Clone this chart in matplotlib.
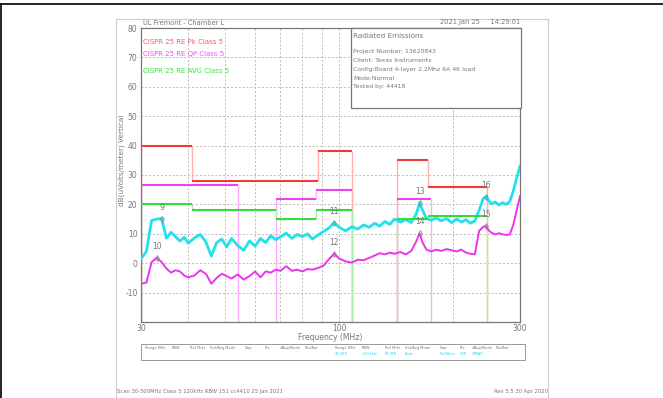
import matplotlib
matplotlib.use("Agg")
import matplotlib.pyplot as plt
from matplotlib.patches import Rectangle
from matplotlib.lines import Line2D

W, H = 663, 398

# scan frequencies (MHz) and measured levels (dBuV/m)
freq = [30, 31, 32, 33, 34, 35, 36, 37, 38, 39, 40, 41.5, 43, 44.5, 46, 47.5, 49, 50.5,
        52, 54, 56, 58, 60, 62, 64, 66, 68, 70, 72.5, 75, 77.5, 80, 82.5, 85, 88, 91,
        94, 97, 100, 104, 108, 112, 116, 120, 124, 128, 132, 136, 140, 145, 150, 155,
        160, 163, 166, 170, 175, 180, 186, 192, 198, 204, 210, 216, 222, 228, 234, 240,
        244, 248, 252, 258, 264, 270, 276, 282, 288, 294, 300]
peak_scan = [1.5, 4.0, 14.5, 15.0, 15.2, 8.5, 10.5, 9.0, 7.5, 8.8, 6.8, 8.6, 9.8, 7.2,
             2.4, 7.0, 8.2, 5.6, 8.4, 6.0, 4.4, 7.6, 5.8, 8.4, 7.0, 9.4, 8.0, 9.0, 10.2,
             8.4, 9.8, 9.0, 10.0, 8.2, 9.6, 10.8, 12.0, 13.8, 12.2, 11.0, 12.4, 11.6,
             13.0, 12.2, 13.6, 12.6, 14.2, 13.2, 15.0, 14.0, 14.8, 13.8, 17.0, 20.5,
             18.0, 15.2, 14.6, 15.4, 14.4, 15.2, 13.8, 15.0, 14.0, 14.8, 13.6, 14.4,
             18.0, 22.0, 22.6, 21.4, 20.2, 20.8, 19.8, 20.6, 20.0, 21.0, 24.5, 29.0, 33.0]
qp_scan = [-7.0, -6.6, 0.4, 1.8, 0.4, -1.8, -3.2, -2.4, -2.8, -4.2, -4.8, -4.2, -2.4,
           -3.6, -7.0, -5.0, -3.6, -4.4, -5.2, -3.8, -5.6, -4.4, -2.8, -4.8, -2.8, -3.2,
           -2.2, -2.6, -1.0, -2.6, -2.2, -2.8, -2.0, -2.2, -1.6, -0.8, 1.4, 3.2, 1.6,
           0.6, 0.2, 1.2, 1.0, 1.8, 2.6, 3.4, 3.0, 3.6, 3.2, 3.8, 3.0, 4.2, 7.6, 10.2,
           7.0, 4.6, 4.0, 4.6, 4.2, 4.8, 4.4, 4.0, 4.6, 3.6, 3.2, 3.0, 11.0, 12.4, 12.6,
           11.2, 10.4, 9.8, 10.2, 9.8, 9.6, 9.8, 13.0, 18.0, 22.8]

# limit bands: (start MHz, stop MHz, level dBuV/m)
pk_bands = [(30, 41, 40), (41, 88, 28), (88, 108, 38), (142, 172, 35), (172, 245, 26)]
qp_bands = [(30, 54, 26.5), (68, 87, 22), (87, 108, 25), (142, 175, 22)]
avg_bands = [(30, 41, 20), (41, 68, 18), (68, 87, 15), (87, 108, 18), (142, 172, 15),
             (172, 245, 16)]

# markers
mk_num = [9, 10, 11, 12, 13, 14, 15, 16]
mk_freq = [34, 33, 97, 97, 163, 163, 244, 244]
mk_level = [15.2, 1.8, 13.8, 3.2, 20.5, 10.2, 12.6, 22.6]

grid_freqs = [40, 50, 60, 70, 80, 90, 100, 200]
x_ticks = [30, 100, 300]
y_ticks = [-10, 0, 10, 20, 30, 40, 50, 60, 70, 80]

info_lines = ["Project Number: 13620843", "Client: Texas Instruments",
              "Config:Board 4-layer 2.2Mhz 6A 4K load", "Mode:Normal", "Tested by: 44418"]
tbl_head = ["Range MHz", "RBW", "Ref Mrkr", "Set/Avg Mode", "Swp", "Pts", "#Avg/Mode", "Pos/Ant"]
tbl_vals = ["30-300", "120 kHz", "Pk MR", "Peak", "5s/30ms", "500", "1/MAX", ""]

FONT = ['DejaVu Sans']
GRAY = '#777777'


def px(x, y):
    return x / W, 1 - y / H


def ftext(x, y, s, **kw):
    kw.setdefault('fontsize', 5)
    kw.setdefault('color', GRAY)
    kw.setdefault('va', 'center')
    fig.text(*px(x, y), s, family=FONT, **kw)


def draw_limit(ax, bands, col, edge_col):
    for i, (f0, f1, lv) in enumerate(bands):
        ax.hlines(lv, f0, f1, color=col, lw=1.5, zorder=4)
        prev = bands[i - 1] if i > 0 else None
        low = prev[2] if prev and prev[1] == f0 else -20
        ax.vlines(f0, min(low, lv), max(low, lv), color=edge_col, lw=1, zorder=2)
        nxt = bands[i + 1] if i + 1 < len(bands) else None
        if not (nxt and nxt[0] == f1):
            ax.vlines(f1, -20, lv, color=edge_col, lw=1, zorder=2)


fig = plt.figure(figsize=(W / 100, H / 100), dpi=100)

# frames
fig.add_artist(Line2D([0, 1], [1 - 4 / H] * 2, color='black', lw=1.2))
fig.add_artist(Line2D([0.5 / W] * 2, [0, 1 - 4 / H], color='black', lw=1.2))
fig.add_artist(Line2D([116 / W, 116 / W, 548 / W, 548 / W], [0, 1 - 19 / H, 1 - 19 / H, 0],
                      color='#cccccc', lw=0.8))

ax = fig.add_axes([141 / W, 1 - 322 / H, 379 / W, 294 / H])
ax.set_xscale('log')
ax.set_xlim(30, 300)
ax.set_ylim(-20, 80)

for f in grid_freqs:
    ax.axvline(f, color='#bbbbbb', lw=0.7, ls=(0, (2, 2)), zorder=1)
for y in y_ticks[:-1]:
    ax.axhline(y, color='#bbbbbb', lw=0.7, ls=(0, (2, 2)), zorder=1)

draw_limit(ax, qp_bands, '#ee44ee', '#ffaaff')
draw_limit(ax, pk_bands, '#ee3b3b', '#ffb0b0')
draw_limit(ax, avg_bands, '#33dd33', '#aaeeaa')

ax.plot(freq, peak_scan, color='#22e0ee', lw=2.0, zorder=3)
ax.plot(freq, qp_scan, color='#ee33ee', lw=1.4, zorder=3)

ax.plot(mk_freq, mk_level, ls='none', marker='d', ms=3, mfc='none', mec='#888888',
        mew=0.6, zorder=5)
for n, f, lv in zip(mk_num, mk_freq, mk_level):
    ax.annotate(str(n), (f, lv), xytext=(0, 5), textcoords='offset points', ha='center',
                va='bottom', fontsize=5.5, color=GRAY, family=FONT, zorder=6)

ax.set_xticks(x_ticks)
ax.set_xticklabels([str(t) for t in x_ticks])
ax.minorticks_off()
ax.set_yticks(y_ticks)
ax.set_yticklabels([str(t) for t in y_ticks])
ax.tick_params(length=0, labelsize=5.5, labelcolor=GRAY, pad=2.5)
ax.tick_params(axis='x', pad=1.5)
for lab in ax.get_xticklabels() + ax.get_yticklabels():
    lab.set_family(FONT)
for s in ax.spines.values():
    s.set_color('#777777')
    s.set_linewidth(0.9)

ax.set_xlabel('Frequency (MHz)', fontsize=5.5, color=GRAY, family=FONT)
ax.xaxis.set_label_coords(0.5, -(333 - 322) / 294)
ftext(122, 160, 'dB(uVolts/meter) Vertical', rotation=90, ha='center', fontsize=5.2)

# header line
ftext(143, 23, 'UL Fremont - Chamber L', ha='left', fontsize=4.8)
ftext(520, 22, '2021 Jan 25     14:29:01', ha='right', fontsize=4.8)

# limit legend
ftext(143, 42, 'CISPR 25 RE Pk Class 5', ha='left', color='#ff5a5a', fontsize=5)
ftext(143, 54, 'CISPR 25 RE QP Class 5', ha='left', color='#ff44ff', fontsize=5)
ftext(143, 71, 'CISPR 25 RE AVG Class 5', ha='left', color='#44dd44', fontsize=5)

# info box
fig.add_artist(Rectangle(px(351, 108), 170 / W, 80 / H, transform=fig.transFigure,
                         fill=True, fc='white', ec='#777777', lw=0.9, zorder=5))
ftext(353, 36, 'Radiated Emissions', ha='left', fontsize=5.2, zorder=6)
for i, line in enumerate(info_lines):
    ftext(353, 52 + i * 8.7, line, ha='left', fontsize=4.4, zorder=6)

# settings table
fig.add_artist(Rectangle(px(141, 360), 384 / W, 16 / H, transform=fig.transFigure,
                         fill=False, ec='#999999', lw=0.7))
left_x = [145, 172, 190, 210, 245, 265, 280, 305]
right_x = [335, 362, 385, 405, 440, 460, 472, 496]
for hx, h in zip(left_x, tbl_head):
    ftext(hx, 348, h, ha='left', fontsize=2.6)
for hx, h, v in zip(right_x, tbl_head, tbl_vals):
    ftext(hx, 348, h, ha='left', fontsize=2.6)
    ftext(hx, 354, v, ha='left', fontsize=2.6, color='#22ccee')

# footer
ftext(117, 391, 'Scan 30-300MHz Class 5 120kHz RBW 151 cc4410 25 Jan 2021', ha='left',
      fontsize=3.8)
ftext(548, 391, 'Rev 5.5 30 Apr 2020', ha='right', fontsize=3.8)

fig.savefig('out.png', dpi=100)
